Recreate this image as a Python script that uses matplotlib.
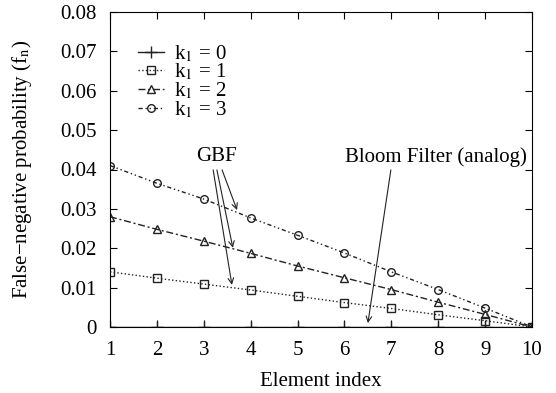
import matplotlib
matplotlib.use("Agg")
import matplotlib.pyplot as plt
import numpy as np

plt.rcParams['font.family'] = ['Liberation Serif', 'DejaVu Serif']
plt.rcParams['mathtext.fontset'] = 'stix'

idx = [1, 2, 3, 4, 5, 6, 7, 8, 9, 10]
k0 = [0, 0, 0, 0, 0, 0, 0, 0, 0, 0]
k1 = [0.0140, 0.0124, 0.0109, 0.0094, 0.0078, 0.0062, 0.0047, 0.0031, 0.0016, 0.0]
k2 = [0.0280, 0.0248, 0.0218, 0.0187, 0.0155, 0.0125, 0.0095, 0.0063, 0.0032, 0.0]
k3 = [0.0410, 0.0365, 0.0325, 0.0277, 0.0233, 0.0188, 0.0140, 0.0095, 0.0048, 0.0]
labels = [r'k$_1$ = 0', r'k$_1$ = 1', r'k$_1$ = 2', r'k$_1$ = 3']

fig = plt.figure(figsize=(5.56, 3.93), dpi=100)
ax = fig.add_axes([110/556, 1 - 327/393, 422/556, 315/393])

c = '#222222'
ax.plot(idx, k0, '-', marker='+', color=c, lw=1, ms=8, mew=1, label=labels[0])
ax.plot(idx, k1, ':', marker='s', color=c, lw=1, ms=5.5, mew=1, mfc='none', label=labels[1])
ax.plot(idx, k2, color=c, lw=1, marker='^', ms=5.5, mew=1, mfc='none',
        dashes=[5, 2, 1.5, 2], label=labels[2])
ax.plot(idx, k3, color=c, lw=1, marker='o', ms=5.5, mew=1, mfc='none',
        dashes=[3, 2, 1, 2, 1, 2], label=labels[3])

ax.set_xlim(1, 10)
ax.set_ylim(0, 0.08)
ax.set_xticks(idx)
ax.set_yticks(np.arange(0, 0.081, 0.01))
ax.set_yticklabels(['0', '0.01', '0.02', '0.03', '0.04', '0.05', '0.06', '0.07', '0.08'])
ax.tick_params(direction='in', top=True, right=True, labelsize=15, length=5)
ax.tick_params(axis='x', pad=10)
ax.tick_params(axis='y', pad=9.5)
ax.set_xlabel('Element index', fontsize=15, labelpad=9)
ax.set_ylabel('False\u2212negative probability (f$_{\\rm n}$)', fontsize=15, labelpad=19)

ax.legend(loc='upper left', bbox_to_anchor=(0.021, 0.96), frameon=False, fontsize=15,
          handlelength=1.25, labelspacing=-0.1, handletextpad=0.48, borderaxespad=0.5)

ap = dict(arrowstyle='->', color=c, lw=0.8, shrinkA=0, shrinkB=0)
ax.text(3.28, 0.0434, 'GBF', fontsize=15, ha='center', va='center')
ax.annotate('', xy=(3.71, 0.0297), xytext=(3.39, 0.0399), arrowprops=ap)
ax.annotate('', xy=(3.62, 0.0201), xytext=(3.28, 0.0399), arrowprops=ap)
ax.annotate('', xy=(3.60, 0.0107), xytext=(3.20, 0.0399), arrowprops=ap)
ax.text(9.89, 0.0432, 'Bloom Filter (analog)', fontsize=15, ha='right', va='center')
ax.annotate('', xy=(6.50, 0.001), xytext=(6.99, 0.0399), arrowprops=ap)

fig.savefig('out.png', dpi=100)
